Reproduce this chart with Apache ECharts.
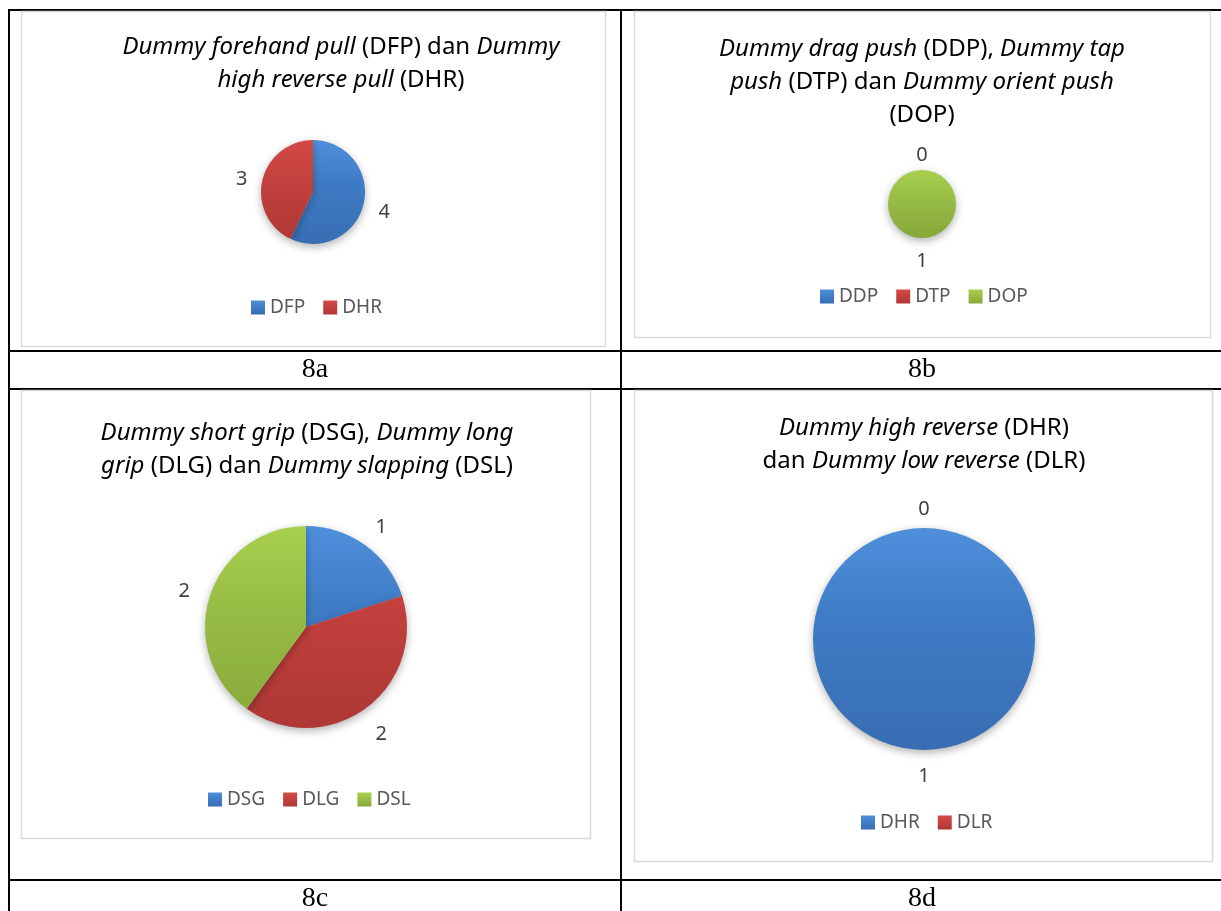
<!DOCTYPE html>
<html>
<head>
<meta charset="utf-8">
<title>Grafik 8a - 8d</title>
<script src="https://cdn.jsdelivr.net/npm/echarts@6/dist/echarts.min.js"></script>
<style>
    html, body { margin: 0; padding: 0; background: #fff; }
    #container { width: 1221px; height: 911px; }
</style>
</head>
<body>
<div id="container"></div>
<script>
// data of the four pies
var catsA = ['DFP', 'DHR'];
var valsA = [4, 3];
var catsB = ['DDP', 'DTP', 'DOP'];
var valsB = [0, 0, 1];
var catsC = ['DSG', 'DLG', 'DSL'];
var valsC = [1, 2, 2];
var catsD = ['DHR', 'DLR'];
var valsD = [1, 0];
var panelNames = ['8a', '8b', '8c', '8d'];

var FONT = '"Noto Sans", "Open Sans", sans-serif';
// light / base / dark for blue, red, green
var palette = [
    ['#4f8fdb', '#3f7cc6', '#386db2'],
    ['#d24a47', '#c2403d', '#ad3835'],
    ['#a8cf4e', '#98bd45', '#86a83a']
];

var panels = [
    {
        cats: catsA, vals: valsA,
        title: '{i|Dummy forehand pull} (DFP) dan {i|Dummy}\n{i|high reverse pull} (DHR)',
        titleX: 341, titleY: 31,
        cx: 313, cy: 192, r: 52, gap: 18,
        legendX: 251, legendY: 298
    },
    {
        cats: catsB, vals: valsB,
        title: '{i|Dummy drag push} (DDP), {i|Dummy tap}\n{i|push} (DTP) dan {i|Dummy orient push}\n(DOP)',
        titleX: 922, titleY: 33,
        cx: 922, cy: 204, r: 34, gap: 16,
        legendX: 820, legendY: 287
    },
    {
        cats: catsC, vals: valsC,
        title: '{i|Dummy short grip} (DSG), {i|Dummy long}\n{i|grip} (DLG) dan {i|Dummy slapping} (DSL)',
        titleX: 307, titleY: 417,
        cx: 306, cy: 627, r: 101, gap: 24,
        legendX: 208, legendY: 790
    },
    {
        cats: catsD, vals: valsD,
        title: '{i|Dummy high reverse} (DHR)\ndan {i|Dummy low reverse} (DLR)',
        titleX: 924, titleY: 412,
        cx: 924, cy: 639, r: 111, gap: 19.5,
        legendX: 861, legendY: 813
    }
];

// chart frames (x, y, w, h) and cell captions
var boxes = [[21.5, 11.5, 584, 335], [634.5, 11.5, 576, 326], [21.5, 390.5, 569, 448], [634.5, 390.5, 578, 471]];
var labelPos = [[315, 370], [922, 370], [315, 899], [922, 899]];

function sliceColor(k, p) {
    var c = palette[k];
    return {
        type: 'linear', global: true,
        x: p.cx, y: p.cy - p.r, x2: p.cx, y2: p.cy + p.r,
        colorStops: [
            { offset: 0, color: c[0] },
            { offset: 0.4, color: c[1] },
            { offset: 1, color: c[2] }
        ]
    };
}

function iconColor(k) {
    var c = palette[k];
    return {
        type: 'linear', x: 0, y: 0, x2: 0, y2: 1,
        colorStops: [
            { offset: 0, color: c[0] },
            { offset: 0.5, color: c[1] },
            { offset: 1, color: c[2] }
        ]
    };
}

var dom = document.getElementById('container');
var myChart = echarts.init(dom);

var titles = [];
var legends = [];
var series = [];
panels.forEach(function (p) {
    titles.push({
        text: p.title,
        left: p.titleX,
        top: p.titleY,
        textAlign: 'center',
        padding: 0,
        textStyle: {
            fontFamily: FONT,
            fontSize: 24,
            fontWeight: 'normal',
            color: '#000',
            lineHeight: 33,
            rich: {
                i: { fontFamily: FONT, fontSize: 24, fontStyle: 'italic', color: '#000', lineHeight: 33 }
            }
        }
    });
    legends.push({
        left: p.legendX,
        top: p.legendY,
        padding: 0,
        orient: 'horizontal',
        selectedMode: false,
        icon: 'rect',
        itemWidth: 14,
        itemHeight: 14,
        itemGap: 18,
        textStyle: { fontFamily: FONT, fontSize: 19, color: '#595959' },
        data: p.cats.map(function (name, k) {
            return { name: name, itemStyle: { color: iconColor(k) } };
        })
    });
    // the pie itself
    series.push({
        type: 'pie',
        center: [p.cx, p.cy],
        radius: p.r,
        startAngle: 90,
        clockwise: true,
        animation: false,
        silent: true,
        emphasis: { disabled: true },
        label: { show: false },
        labelLine: { show: false },
        itemStyle: {
            shadowBlur: 8,
            shadowOffsetY: 3,
            shadowColor: 'rgba(0,0,0,0.3)'
        },
        data: p.cats.map(function (name, k) {
            return { name: name, value: p.vals[k], itemStyle: { color: sliceColor(k, p) } };
        })
    });
    // invisible ring that only carries the value labels
    series.push({
        type: 'pie',
        center: [p.cx, p.cy],
        radius: [p.r, p.r + 2 * p.gap],
        startAngle: 90,
        clockwise: true,
        animation: false,
        silent: true,
        legendHoverLink: false,
        emphasis: { disabled: true },
        itemStyle: { color: 'rgba(0,0,0,0)' },
        label: {
            show: true,
            position: 'inside',
            formatter: '{c}',
            offset: [0, 4],
            fontFamily: FONT,
            fontSize: 20,
            color: '#404040'
        },
        labelLine: { show: false },
        data: p.cats.map(function (name, k) {
            return { name: name, value: p.vals[k] };
        })
    });
});

var graphics = [];
// table rules
[[8, 10, 1221, 10], [8, 351, 1221, 351], [8, 389, 1221, 389], [8, 880, 1221, 880],
 [9, 9, 9, 911], [621, 9, 621, 911]].forEach(function (l) {
    graphics.push({
        type: 'line', silent: true,
        shape: { x1: l[0], y1: l[1], x2: l[2], y2: l[3] },
        style: { stroke: '#000', lineWidth: 2 }
    });
});
boxes.forEach(function (b) {
    graphics.push({
        type: 'rect', silent: true,
        shape: { x: b[0], y: b[1], width: b[2], height: b[3] },
        style: { fill: null, stroke: '#d9d9d9', lineWidth: 1.5 }
    });
});
panelNames.forEach(function (name, i) {
    graphics.push({
        type: 'text', silent: true,
        x: labelPos[i][0], y: labelPos[i][1],
        style: {
            text: name,
            fontFamily: '"Liberation Serif", "Times New Roman", serif',
            fontSize: 28,
            fill: '#000',
            align: 'center',
            verticalAlign: 'middle'
        }
    });
});

var option = {
    backgroundColor: '#fff',
    animation: false,
    title: titles,
    legend: legends,
    graphic: graphics,
    series: series
};
myChart.setOption(option);
</script>
</body>
</html>
